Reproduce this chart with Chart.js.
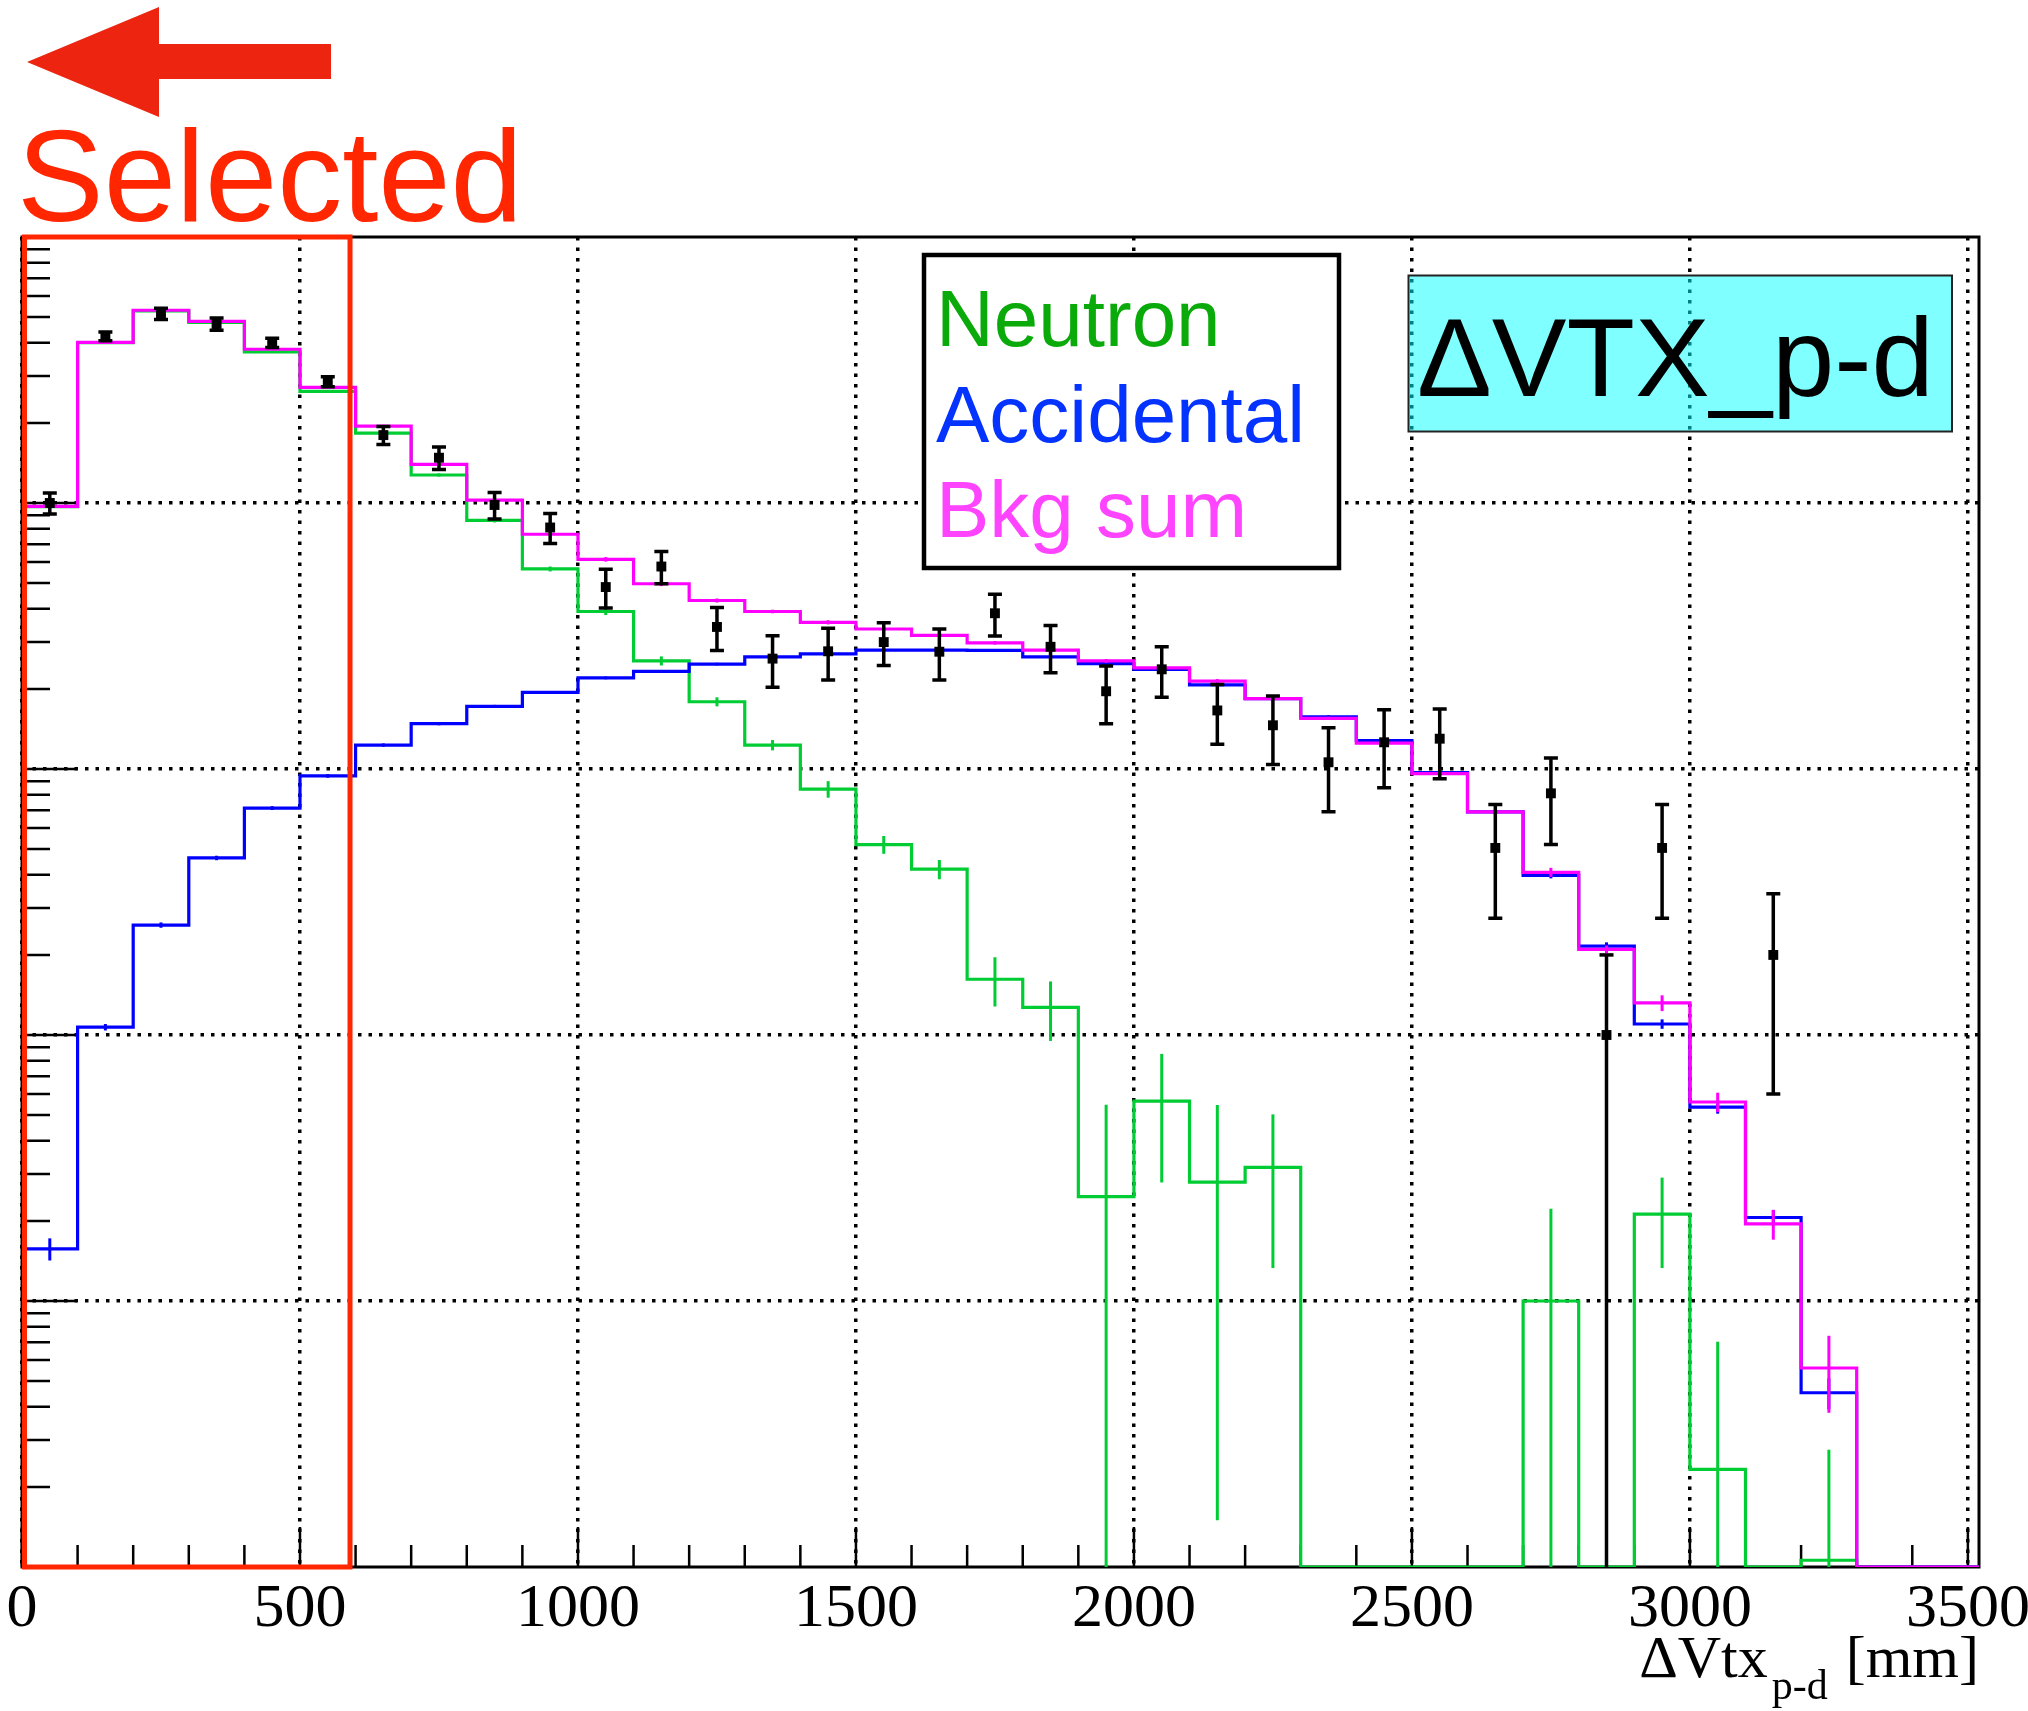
<!DOCTYPE html>
<html>
<head>
<meta charset="utf-8">
<style>
  html, body { margin: 0; padding: 0; background: #ffffff; }
  canvas { display: block; }
</style>
<script src="https://cdn.jsdelivr.net/npm/chart.js@4.4.1/dist/chart.umd.min.js"></script>
</head>
<body>
<canvas id="c" width="2028" height="1711"></canvas>
<script>
// ---------------- data ----------------
const binLowEdges = [0, 100, 200, 300, 400, 500, 600, 700, 800, 900,
  1000, 1100, 1200, 1300, 1400, 1500, 1600, 1700, 1800, 1900,
  2000, 2100, 2200, 2300, 2400, 2500, 2600, 2700, 2800, 2900,
  3000, 3100, 3200, 3300, 3400, 3500];
const binWidth = 100;

const neutron = [969, 4007, 5278, 4774, 3700, 2630, 1830, 1274, 860, 565,
  391, 255, 179, 123, 84, 52, 42, 16.2, 12.7, 2.47,
  5.64, 2.80, 3.18, 0, 0, 0, 0, 1.0, 0, 2.12,
  0.233, 0, 0.106, 0, 0, 0];
const neutronErr = [16, 32, 36, 34, 30, 26, 21, 18, 15, 12,
  12, 10, 7, 5.5, 6, 4, 3.5, 3.4, 3.2, 3.0,
  2.85, 2.65, 1.85, 0, 0, 0, 0, 1.22, 0, 0.79,
  0.47, 0, 0.17, 0, 0, 0];

const accidental = [1.57, 10.7, 25.9, 46.3, 71.3, 94.2, 123, 148, 172, 194,
  220, 233, 248, 264, 271, 280, 280, 279, 264, 249,
  237, 207, 184, 157, 128, 97, 69, 39.8, 21.6, 11.0,
  5.36, 2.06, 0.452, 0, 0, 0];
const accidentalErr = [0.15, 0.3, 0.6, 0.9, 1.2, 1.5, 1.8, 2.0, 2.2, 2.4,
  2.6, 2.7, 2.8, 3.0, 3.0, 3.1, 3.1, 3.1, 3.0, 2.9,
  2.8, 2.6, 2.4, 2.2, 2.0, 1.7, 1.4, 1.0, 0.7, 0.45,
  0.3, 0.14, 0.06, 0, 0, 0];

const bkgSum = [971, 4018, 5304, 4820, 3785, 2720, 1945, 1397, 1026, 763,
  614, 497, 430, 391, 356, 336, 318, 298, 280, 255,
  240, 214, 184, 155, 125, 96, 69, 40.9, 21.0, 13.2,
  5.6, 1.95, 0.56, 0, 0, 0];
const bkgSumErr = [16, 32, 36, 34, 30, 26, 21, 18, 15, 12,
  12, 10, 7.5, 6, 6.5, 5, 4.7, 4.6, 4.4, 4.2,
  4.1, 3.8, 3.0, 2.2, 2.0, 1.7, 1.4, 1.6, 0.7, 0.9,
  0.47, 0.25, 0.18, 0, 0, 0];

const dataValues = [1000, 4230, 5150, 4710, 4000, 2860, 1800, 1480, 983, 809,
  483, 577, 342, 260, 277, 300, 276, 385, 288, 196,
  237, 166, 146, 106, 126, 130, 50.5, 81, 10, 50.5,
  null, 20, null, null, null, null];
const dataErr = [90, 160, 250, 250, 160, 125, 140, 145, 112, 105,
  80, 80, 63, 57, 61, 55, 60, 69, 58, 48,
  51, 42, 42, 37, 41, 38, 23, 29, 10, 23,
  null, 14, null, null, null, null];

const xTickLabels = [0, 500, 1000, 1500, 2000, 2500, 3000, 3500];
const yGridValues = [1, 10, 100, 1000];
const yDecades = [0.1, 1, 10, 100, 1000, 10000];
const yMinorMultipliers = [2, 3, 4, 5, 6, 7, 8, 9];
const legendLabels = ['Neutron', 'Accidental', 'Bkg sum'];
const selectedCut = 590;

const X_MIN = 0, X_MAX = 3520, Y_MIN = 0.1, Y_MAX = 10000;
const X_MINOR_STEP = 100, X_MAJOR_STEP = 500;

// ---------------- helpers ----------------
const binCenters = binLowEdges.map(e => e + binWidth / 2);
function histPoints(vals) {
  const pts = [];
  vals.forEach((v, i) => {
    const y = v > 0 ? v : Y_MIN;   // empty bins lie on the axis floor (ROOT style)
    pts.push({ x: binLowEdges[i], y: y }, { x: binLowEdges[i] + binWidth, y: y });
  });
  return pts;
}

const GREEN = '#00cc33', BLUE = '#0000ff', MAGENTA = '#ff00ff';

function histDataset(label, vals, errs, color) {
  return {
    label: label,
    data: histPoints(vals),
    showLine: true,
    borderColor: color,
    borderWidth: 3.2,
    pointRadius: 0,
    fill: false,
    tension: 0,
    errValues: vals,
    errSizes: errs,
    errCenters: binCenters,
    errColor: color,
    errWidth: 3,
    errCap: false
  };
}

const deco = {
  id: 'rootDeco',
  beforeDatasetsDraw(chart) {
    const ctx = chart.ctx, xs = chart.scales.x, ys = chart.scales.y, a = chart.chartArea;
    ctx.save();
    // tick marks (inside the frame, ROOT style)
    ctx.strokeStyle = '#000';
    ctx.lineWidth = 2.5;
    ctx.beginPath();
    for (let v = X_MIN; v <= X_MAX; v += X_MINOR_STEP) {
      const px = xs.getPixelForValue(v);
      const len = (v % X_MAJOR_STEP === 0) ? 40 : 22;
      ctx.moveTo(px, a.bottom); ctx.lineTo(px, a.bottom - len);
    }
    yDecades.forEach(d => {
      const py = ys.getPixelForValue(d);
      ctx.moveTo(a.left, py); ctx.lineTo(a.left + 55, py);
      yMinorMultipliers.forEach(m => {
        const v = m * d;
        if (v < Y_MAX) {
          const p = ys.getPixelForValue(v);
          ctx.moveTo(a.left, p); ctx.lineTo(a.left + 28, p);
        }
      });
    });
    ctx.stroke();
    // frame
    ctx.lineWidth = 3;
    ctx.strokeRect(a.left, a.top, a.right - a.left, a.bottom - a.top);
    ctx.restore();
  },
  afterDatasetDraw(chart, args) {
    const ds = chart.data.datasets[args.index];
    if (!ds.errValues) return;
    const ctx = chart.ctx, xs = chart.scales.x, ys = chart.scales.y, a = chart.chartArea;
    ctx.save();
    ctx.beginPath();
    ctx.rect(a.left, a.top, a.right - a.left, a.bottom - a.top);
    ctx.clip();
    ctx.strokeStyle = ds.errColor;
    ctx.lineWidth = ds.errWidth;
    const cap = 7;
    ds.errValues.forEach((v, i) => {
      const e = ds.errSizes[i];
      if (v === null || !(v > 0) || !e) return;
      const cx = xs.getPixelForValue(ds.errCenters[i]);
      const yHi = ys.getPixelForValue(v + e);
      const lo = v - e;
      const yLo = lo > 0 ? ys.getPixelForValue(lo) : a.bottom + 10;
      ctx.beginPath();
      ctx.moveTo(cx, yHi);
      ctx.lineTo(cx, yLo);
      ctx.stroke();
      if (ds.errCap) {
        ctx.beginPath();
        ctx.moveTo(cx - cap, yHi); ctx.lineTo(cx + cap, yHi);
        if (lo > Y_MIN) { ctx.moveTo(cx - cap, yLo); ctx.lineTo(cx + cap, yLo); }
        ctx.stroke();
      }
    });
    ctx.restore();
  },
  afterDraw(chart) {
    const ctx = chart.ctx, xs = chart.scales.x, a = chart.chartArea;
    ctx.save();
    // legend box
    ctx.fillStyle = '#ffffff';
    ctx.fillRect(924, 255, 415, 313);
    ctx.lineWidth = 4.5;
    ctx.strokeStyle = '#000';
    ctx.strokeRect(924, 255, 415, 313);
    ctx.font = '80px "Liberation Sans", Arial, sans-serif';
    ctx.textBaseline = 'alphabetic';
    ctx.textAlign = 'left';
    const legColors = ['#0aaa0a', '#0433ff', '#ff44ff'];
    const legY = [346, 442, 537];
    legendLabels.forEach((t, i) => {
      ctx.fillStyle = legColors[i];
      ctx.fillText(t, 936, legY[i]);
    });

    // title pave
    ctx.fillStyle = 'rgba(0,255,255,0.5)';
    ctx.fillRect(1408.5, 275.5, 543.5, 156);
    ctx.lineWidth = 2;
    ctx.strokeStyle = '#222';
    ctx.strokeRect(1408.5, 275.5, 543.5, 156);
    ctx.fillStyle = '#000';
    ctx.font = '112px "Liberation Sans", Arial, sans-serif';
    ctx.fillText('ΔVTX_p-d', 1417, 396);

    // x-axis title: ΔVtx_{p-d} [mm]
    ctx.textAlign = 'right';
    ctx.font = '60px "Liberation Serif", "Times New Roman", serif';
    const rightX = a.right;
    ctx.fillText('[mm]', rightX, 1677);
    const mmW = ctx.measureText('[mm]').width;
    ctx.font = '42px "Liberation Serif", "Times New Roman", serif';
    const subRight = rightX - mmW - 18;
    ctx.fillText('p-d', subRight, 1699);
    const subW = ctx.measureText('p-d').width;
    ctx.font = '60px "Liberation Serif", "Times New Roman", serif';
    ctx.fillText('ΔVtx', subRight - subW - 4, 1677);

    // red "Selected" annotation
    const red = '#ff2600';
    ctx.strokeStyle = red;
    ctx.lineWidth = 5;
    const rx0 = xs.getPixelForValue(X_MIN) + 2.5;
    const rx1 = xs.getPixelForValue(selectedCut);
    ctx.strokeRect(rx0, a.top, rx1 - rx0, a.bottom - a.top);

    ctx.fillStyle = '#ec2410';
    ctx.beginPath();
    ctx.moveTo(27, 62);
    ctx.lineTo(159, 7);
    ctx.lineTo(159, 44);
    ctx.lineTo(331, 44);
    ctx.lineTo(331, 79);
    ctx.lineTo(159, 79);
    ctx.lineTo(159, 117);
    ctx.closePath();
    ctx.fill();

    ctx.fillStyle = red;
    ctx.textAlign = 'left';
    ctx.font = '130px "Liberation Sans", Arial, sans-serif';
    ctx.fillText('Selected', 17, 221);
    ctx.restore();
  }
};

const dataDataset = {
  label: 'Data',
  data: dataValues.map((v, i) => ({ x: binCenters[i], y: v })),
  showLine: false,
  pointStyle: 'rect',
  pointRadius: 7,
  pointBackgroundColor: '#000',
  pointBorderWidth: 0,
  errValues: dataValues,
  errSizes: dataErr,
  errCenters: binCenters,
  errColor: '#000',
  errWidth: 3.5,
  errCap: true
};

new Chart(document.getElementById('c'), {
  type: 'scatter',
  data: {
    datasets: [
      dataDataset,
      histDataset('Bkg sum', bkgSum, bkgSumErr, MAGENTA),
      histDataset('Accidental', accidental, accidentalErr, BLUE),
      histDataset('Neutron', neutron, neutronErr, GREEN)
    ]
  },
  options: {
    responsive: false,
    devicePixelRatio: 1,
    animation: false,
    events: [],
    layout: { padding: { left: 22, right: 49, top: 237, bottom: 0 } },
    plugins: { legend: { display: false }, tooltip: { enabled: false }, title: { display: false } },
    scales: {
      x: {
        type: 'linear',
        min: X_MIN,
        max: X_MAX,
        afterBuildTicks: (s) => { s.ticks = xTickLabels.map(v => ({ value: v })); },
        afterFit: (s) => { s.height = 144; s.paddingLeft = 0; s.paddingRight = 0; },
        ticks: {
          autoSkip: false,
          maxRotation: 0,
          padding: 6,
          color: '#000',
          font: { family: '"Liberation Serif", "Times New Roman", serif', size: 62 },
          callback: (v) => String(v)
        },
        grid: { display: true, drawOnChartArea: true, drawTicks: false, color: '#000', lineWidth: 3.5 },
        border: { display: false, dash: [3.5, 7] }
      },
      y: {
        type: 'logarithmic',
        min: Y_MIN,
        max: Y_MAX,
        afterBuildTicks: (s) => { s.ticks = yGridValues.map(v => ({ value: v })); },
        afterFit: (s) => { s.width = 0; s.paddingTop = 0; s.paddingBottom = 0; },
        ticks: { display: false },
        grid: { display: true, drawOnChartArea: true, drawTicks: false, color: '#000', lineWidth: 3.5 },
        border: { display: false, dash: [3.5, 7] }
      }
    }
  },
  plugins: [deco]
});
</script>
</body>
</html>
